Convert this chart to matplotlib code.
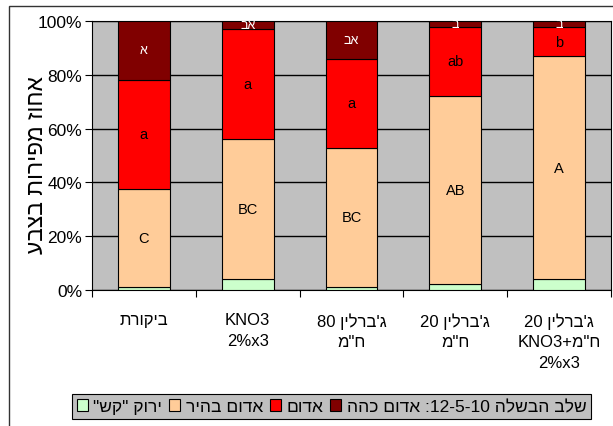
import matplotlib
matplotlib.use("Agg")
import matplotlib.pyplot as plt
from matplotlib.patches import Rectangle, Patch
import numpy as np

plt.rcParams['font.family'] = ['Liberation Sans', 'DejaVu Sans']

# Hebrew strings are stored in display (left-to-right) order,
# since matplotlib does no bidi reordering.
categories = ["תרוקיב",
              "KNO3\n2%x3",
              "80 ןילרב'ג\nמ\"ח",
              "20 ןילרב'ג\nמ\"ח",
              "20 ןילרב'ג\nKNO3+מ\"ח\n2%x3"]

# percent of fruit in each colour stage
green = [1.1, 4.1, 1.1, 2.1, 4.1]
peach = [36.5, 51.9, 51.8, 70.2, 82.8]
red = [40.5, 40.9, 32.9, 25.5, 10.9]
dark = [21.9, 3.1, 14.2, 2.2, 2.2]

# significance letters per segment
peach_letters = ["C", "BC", "BC", "AB", "A"]
red_letters = ["a", "a", "a", "ab", "b"]
dark_letters = ["א", "בא", "בא", "ב", "ב"]

series_names = ["\"שק\" קורי", "ריהב םודא", "םודא", "ההכ םודא :12-5-10 הלשבה בלש"]
colors = ["#CCFFCC", "#FFCC99", "#FF0000", "#800000"]

fig = plt.figure(figsize=(6.13, 4.27), dpi=100)
ax = fig.add_axes([92/613, 136/427, 519/613, 269/427])
ax.set_facecolor("#C0C0C0")

x = np.arange(len(categories))
stack = [green, peach, red, dark]
bottom = np.zeros(len(categories))
for vals, col in zip(stack, colors):
    ax.bar(x, vals, width=0.5, bottom=bottom, color=col,
           edgecolor="black", linewidth=0.8, zorder=3)
    bottom += np.array(vals)

# letters in the middle of the segments
b_peach = np.array(green)
b_red = b_peach + np.array(peach)
b_dark = b_red + np.array(red)
for i in x:
    ax.text(i, b_peach[i] + peach[i]/2, peach_letters[i], ha="center", va="center",
            fontsize=10.5, zorder=4)
    ax.text(i, b_red[i] + red[i]/2, red_letters[i], ha="center", va="center",
            fontsize=10.5, zorder=4)
    ax.text(i, b_dark[i] + dark[i]/2, dark_letters[i], ha="center", va="center",
            fontsize=9, color="white", zorder=4)

ax.set_xlim(-0.5, len(categories) - 0.5)
ax.set_ylim(0, 100)
ax.set_yticks(np.arange(0, 101, 20))
ax.set_yticklabels(["%d%%" % v for v in range(0, 101, 20)], fontsize=12.5)
ax.yaxis.grid(True, color="black", linewidth=1.0, zorder=0)
ax.set_axisbelow(True)
ax.tick_params(axis="y", direction="out", length=5, width=0.8, pad=2)

ax.set_xticks(np.arange(-0.5, len(categories), 1.0))
ax.set_xticklabels([])
ax.tick_params(axis="x", which="major", direction="out", length=5, width=0.8)
ax.set_xticks(x, minor=True)
ax.set_xticklabels(categories, minor=True, fontsize=12, linespacing=1.45,
                   multialignment="center")
ax.tick_params(axis="x", which="minor", length=0, pad=16)

for s in ax.spines.values():
    s.set_linewidth(0.8)
    s.set_color("black")

ax.set_ylabel("עבצב תוריפמ זוחא", fontsize=16.5)
ax.yaxis.set_label_coords(-0.084, 0.47)

# chart area border
fig.patches.append(Rectangle((9/613, -0.05), 1.0, 1 - 7/427 + 0.05,
                             transform=fig.transFigure, fill=False,
                             edgecolor="#333333", linewidth=1.0))

handles = [Patch(facecolor=c, edgecolor="black", linewidth=0.8) for c in colors]
leg = fig.legend(handles, series_names, loc="center", ncol=4,
                 bbox_to_anchor=(331.5/613, 1 - 407.5/427), fontsize=12.5,
                 frameon=True, fancybox=False, handlelength=0.65, handleheight=0.65,
                 handletextpad=0.3, columnspacing=0.4, borderpad=0.3,
                 borderaxespad=0)
leg.get_frame().set_facecolor("#C0C0C0")
leg.get_frame().set_edgecolor("black")
leg.get_frame().set_linewidth(0.8)
leg.get_frame().set_alpha(1)

fig.savefig("out.png", dpi=100)
